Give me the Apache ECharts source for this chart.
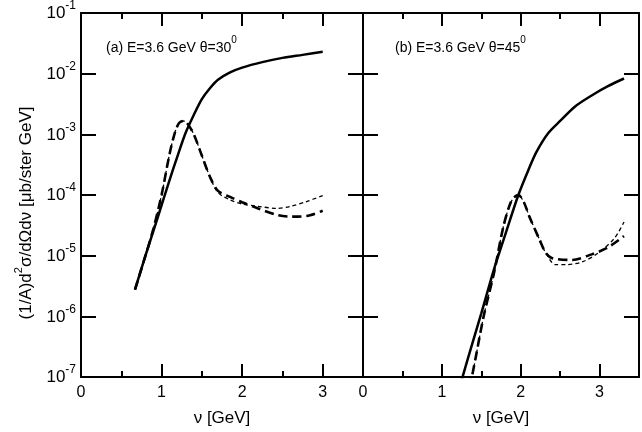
<!DOCTYPE html>
<html><head><meta charset="utf-8">
<script src="https://cdn.jsdelivr.net/npm/echarts@6/dist/echarts.min.js"></script>
<style>html,body{margin:0;padding:0;background:#fff}#c{width:642px;height:432px}</style>
</head><body><div id="c"></div>
<script>
// ---- Data (ν in GeV, values in μb/ster GeV) ----
// Panel (a) E=3.6 GeV θ=30°
const aSolidNu   = [0.67,0.8,0.95,1.1,1.2,1.3,1.4,1.5,1.6,1.7,1.85,2.0,2.25,2.5,2.75,3.0];
const aSolidVal  = [2.75e-6,1.0e-5,4.17e-5,1.78e-4,4.47e-4,1.07e-3,2.09e-3,3.8e-3,5.75e-3,7.94e-3,1.05e-2,1.26e-2,1.55e-2,1.82e-2,2.04e-2,2.29e-2];
const aLongNu    = [0.67,0.8,0.9,1.0,1.1,1.17,1.22,1.27,1.32,1.4,1.5,1.6,1.7,1.85,2.0,2.2,2.43,2.6,2.8,3.0];
const aLongVal   = [2.75e-6,1.0e-5,2.82e-5,1.0e-4,4.79e-4,1.12e-3,1.55e-3,1.66e-3,1.51e-3,1.0e-3,4.47e-4,2.0e-4,1.17e-4,9.3e-5,7.6e-5,6.0e-5,4.7e-5,4.4e-5,4.5e-5,5.5e-5];
const aShortNu   = [0.67,0.8,0.9,1.0,1.1,1.17,1.22,1.27,1.32,1.4,1.5,1.6,1.7,1.85,2.0,2.2,2.43,2.6,2.8,3.0];
const aShortVal  = [2.75e-6,1.0e-5,2.82e-5,1.0e-4,4.79e-4,1.12e-3,1.55e-3,1.66e-3,1.51e-3,1.0e-3,4.47e-4,2.0e-4,1.1e-4,8.3e-5,7.1e-5,6.5e-5,6.0e-5,6.5e-5,7.8e-5,9.8e-5];
// Panel (b) E=3.6 GeV θ=45°
const bSolidNu   = [1.2,1.26,1.4,1.5,1.66,1.8,1.97,2.1,2.2,2.35,2.5,2.69,2.9,3.1,3.31];
const bSolidVal  = [5.2e-8,9.8e-8,4.1e-7,1.12e-6,5.9e-6,2.14e-5,1.0e-4,2.63e-4,5.13e-4,1.05e-3,1.66e-3,2.88e-3,4.37e-3,6.17e-3,8.32e-3];
const bLongNu    = [1.3,1.38,1.53,1.66,1.78,1.87,1.93,1.97,2.04,2.11,2.24,2.32,2.4,2.65,2.9,3.1,3.31];
const bLongVal   = [4.0e-8,1.0e-7,1.0e-6,5.1e-6,3.0e-5,7.4e-5,9.5e-5,1.0e-4,7.6e-5,4.4e-5,1.82e-5,1.1e-5,9.1e-6,8.5e-6,1.05e-5,1.35e-5,2.1e-5];
const bShortNu   = [1.3,1.38,1.53,1.66,1.78,1.87,1.93,1.97,2.04,2.11,2.24,2.32,2.44,2.57,2.78,2.98,3.19,3.31];
const bShortVal  = [4.0e-8,1.0e-7,1.0e-6,5.1e-6,3.0e-5,7.4e-5,9.5e-5,1.0e-4,7.6e-5,4.4e-5,1.82e-5,1.1e-5,7.1e-6,7.1e-6,7.9e-6,1.1e-5,1.95e-5,3.6e-5];
const xTicks = [0,1,2,3];
const yDecades = [-7,-6,-5,-4,-3,-2,-1];
const panelLabels = ['(a) E=3.6 GeV θ=30', '(b) E=3.6 GeV θ=45'];

const zip = (a,b) => a.map((v,i)=>[v,b[i]]);
const FONT = 'Liberation Sans, Arial, Helvetica, sans-serif';
const blk = '#000';

function xAx(grid, pos, labels) {
  return {
    type:'value', gridIndex:grid, position:pos, min:0, max:3.5, interval:1,
    axisLine:{show:true, onZero:false, lineStyle:{color:blk,width:2}},
    axisTick:{show:true, inside:true, length:13, lineStyle:{color:blk,width:2}},
    minorTick:{show:true, splitNumber:2, length:6, lineStyle:{color:blk,width:2}},
    splitLine:{show:false},
    axisLabel:{show:labels, color:blk, fontFamily:FONT, fontSize:16, margin:8,
      formatter: v => xTicks.includes(v) ? String(v) : ''},
    name: labels ? 'ν [GeV]' : '', nameLocation:'middle', nameGap:33,
    nameTextStyle:{color:blk, fontFamily:FONT, fontSize:17}
  };
}
function yAx(grid, pos, labels) {
  return {
    type:'log', logBase:10, gridIndex:grid, position:pos, min:1e-7, max:1e-1,
    axisLine:{show:true, onZero:false, lineStyle:{color:blk,width:2}},
    axisTick:{show:true, inside:true, length:15, lineStyle:{color:blk,width:2}},
    minorTick:{show:false}, splitLine:{show:false},
    axisLabel:{show:labels, margin:5, color:blk, fontFamily:FONT,
      formatter: v => { const e = Math.round(Math.log10(v)); return yDecades.includes(e) ? '{b|10}{s|' + e + '}' : ''; },
      rich:{ b:{fontSize:17, fontFamily:FONT, color:blk, lineHeight:22, verticalAlign:'bottom'},
             s:{fontSize:12, fontFamily:FONT, color:blk, lineHeight:12, verticalAlign:'top'} },
      padding:[0,0,4,0]
    }
  };
}
function ser(x, y, nu, val, kind) {
  const ls = kind==='solid' ? {color:blk,width:2.5,type:'solid'}
           : kind==='long' ? {color:blk,width:2.6,type:[9,5]}
           : {color:blk,width:1.3,type:[4,3]};
  return {type:'line', xAxisIndex:x, yAxisIndex:y, data:zip(nu,val), showSymbol:false,
    smooth:0.3, clip:true, lineStyle:ls, animation:false, z: kind==='solid'?3:2};
}

const chart = echarts.init(document.getElementById('c'), null, {renderer:'canvas'});
chart.setOption({
  animation:false,
  backgroundColor:'#fff',
  grid:[{left:81, top:13, width:282, height:365}, {left:363, top:13, width:282, height:365}],
  xAxis:[xAx(0,'bottom',true), xAx(0,'top',false), xAx(1,'bottom',true), xAx(1,'top',false)],
  yAxis:[yAx(0,'left',true), yAx(0,'right',false), yAx(1,'left',false), yAx(1,'right',false)],
  series:[
    ser(0,0,aSolidNu,aSolidVal,'solid'),
    ser(0,0,aLongNu,aLongVal,'long'),
    ser(0,0,aShortNu,aShortVal,'short'),
    ser(2,2,bSolidNu,bSolidVal,'solid'),
    ser(2,2,bLongNu,bLongVal,'long'),
    ser(2,2,bShortNu,bShortVal,'short')
  ],
  graphic:[
    {type:'text', left:106, top:35, style:{text:'{a|'+panelLabels[0]+'}{s|0}', rich:{
      a:{fontSize:14, fontFamily:FONT, fill:blk, lineHeight:20, verticalAlign:'bottom'},
      s:{fontSize:10, fontFamily:FONT, fill:blk, lineHeight:10, verticalAlign:'top'}}}},
    {type:'text', left:395, top:35, style:{text:'{a|'+panelLabels[1]+'}{s|0}', rich:{
      a:{fontSize:14, fontFamily:FONT, fill:blk, lineHeight:20, verticalAlign:'bottom'},
      s:{fontSize:10, fontFamily:FONT, fill:blk, lineHeight:10, verticalAlign:'top'}}}},
    {type:'text', x:24, y:213, rotation:Math.PI/2, style:{
      text:'{a|(1/A)d}{s|2}{a|σ/dΩdν [μb/ster GeV]}', align:'center', verticalAlign:'middle',
      rich:{ a:{fontSize:17, fontFamily:FONT, fill:blk, lineHeight:22, verticalAlign:'bottom'},
             s:{fontSize:11, fontFamily:FONT, fill:blk, lineHeight:11, verticalAlign:'top'} }}}
  ]
});
</script></body></html>
